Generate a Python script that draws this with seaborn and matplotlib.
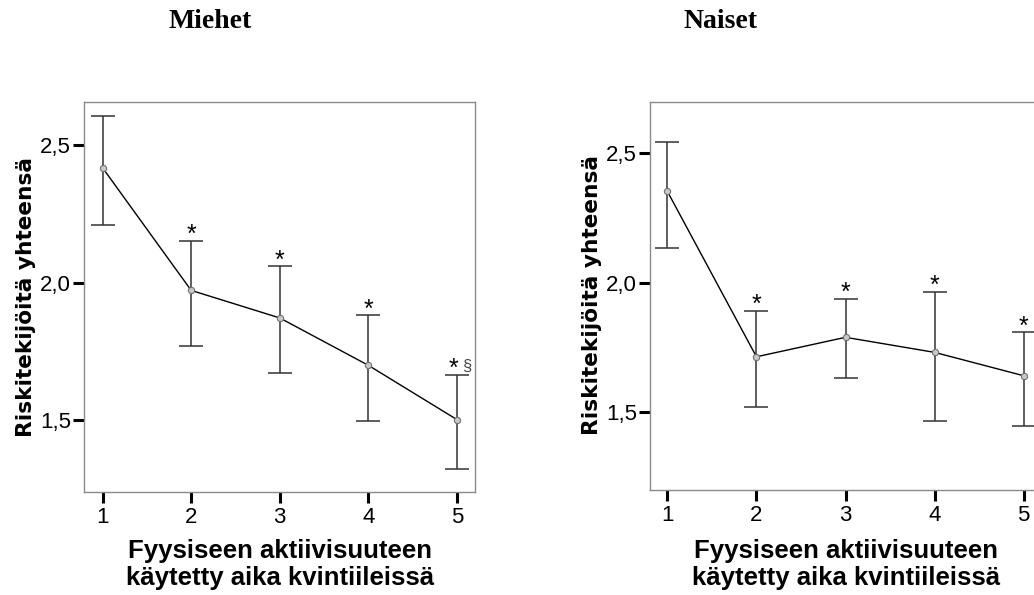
import matplotlib
matplotlib.use("Agg")
import matplotlib.pyplot as plt
import seaborn as sns
import pandas as pd
import numpy as np
from matplotlib.ticker import FuncFormatter

# ---- data ----
quintiles = [1, 2, 3, 4, 5]
men_mean = [2.417, 1.972, 1.872, 1.700, 1.503]
men_low = [2.211, 1.770, 1.671, 1.497, 1.324]
men_high = [2.606, 2.153, 2.059, 1.882, 1.666]
men_marks = ["", "*", "*", "*", "* §"]

women_mean = [2.351, 1.714, 1.789, 1.731, 1.641]
women_low = [2.134, 1.520, 1.631, 1.468, 1.447]
women_high = [2.540, 1.891, 1.938, 1.965, 1.809]
women_marks = ["", "*", "*", "*", "*"]

yticks = [1.5, 2.0, 2.5]
xlabel = "Fyysiseen aktiivisuuteen\nkäytetty aika kvintiileissä"
ylabel = "Riskitekijöitä yhteensä"
titles = ["Miehet", "Naiset"]

sns.set_theme(style="white")
plt.rcParams["font.family"] = ["Liberation Sans", "DejaVu Sans"]
plt.rcParams["text.color"] = "black"
plt.rcParams["axes.labelcolor"] = "black"

W, H = 1034, 595
fig = plt.figure(figsize=(W / 100, H / 100), dpi=100)

def px_axes(left, top, right, bottom):
    return fig.add_axes([left / W, 1 - bottom / H, (right - left) / W, (bottom - top) / H])

ax1 = px_axes(84, 102, 475.5, 492)
ax2 = px_axes(650, 102.3, 1041.5, 490)

panels = [
    (ax1, men_mean, men_low, men_high, men_marks, (1.24, 2.656), (0.79, 5.21), -0.147, 0.500, -0.186),
    (ax2, women_mean, women_low, women_high, women_marks, (1.201, 2.694), (0.805, 5.2), -0.147, 0.5035, -0.192),
]

fmt = FuncFormatter(lambda v, p: f"{v:.1f}".replace(".", ","))

for ax, mean, low, high, marks, ylim, xlim, ylx, yly, xly in panels:
    df = pd.DataFrame({"q": quintiles, "m": mean, "lo": low, "hi": high})
    yerr = np.vstack([df["m"] - df["lo"], df["hi"] - df["m"]])
    ax.errorbar(df["q"], df["m"], yerr=yerr, fmt="none", ecolor="#333333",
                elinewidth=1.1, capsize=8.5, capthick=1.1, zorder=2)
    sns.lineplot(data=df, x="q", y="m", ax=ax, color="black", linewidth=1.0,
                 marker="o", markersize=4.5, markerfacecolor="#c8c8c8",
                 markeredgecolor="#707070", markeredgewidth=0.8, zorder=3)
    for q, hi, mk in zip(quintiles, high, marks):
        if mk:
            if "§" in mk:
                ax.annotate("*", (q, hi), xytext=(-2.5, -1), textcoords="offset points",
                            ha="center", va="baseline", fontsize=18, color="black")
                ax.annotate("§", (q, hi), xytext=(7, 3), textcoords="offset points",
                            ha="center", va="baseline", fontsize=12, color="#444444")
            else:
                ax.annotate(mk, (q, hi), xytext=(0, -1), textcoords="offset points",
                            ha="center", va="baseline", fontsize=18, color="black")
    ax.set_xlim(*xlim)
    ax.set_ylim(*ylim)
    ax.set_xticks(quintiles)
    ax.set_yticks(yticks)
    ax.yaxis.set_major_formatter(fmt)
    ax.tick_params(axis="both", which="both", direction="out", length=8, width=2.2,
                   color="black", labelsize=16, labelcolor="black")
    ax.tick_params(axis="x", bottom=True, top=False, pad=3)
    ax.tick_params(axis="y", left=True, right=False, pad=1.5)
    for s in ax.spines.values():
        s.set_color("#8a8a8a")
        s.set_linewidth(1.0)
    ax.set_xlabel(xlabel, fontsize=18.5, fontweight="bold", linespacing=1.12)
    ax.set_ylabel(ylabel, fontsize=15.6, fontweight="bold", family="DejaVu Sans")
    ax.yaxis.set_label_coords(ylx, yly)
    ax.yaxis.label.set_verticalalignment("center")
    ax.xaxis.set_label_coords(0.5, xly)
    ax.xaxis.label.set_verticalalignment("center")
    ax.grid(False)

fig.text(210 / W, 1 - 21 / H, titles[0], ha="center", va="center",
         family="Liberation Serif", fontweight="bold", fontsize=20)
fig.text(720 / W, 1 - 21 / H, titles[1], ha="center", va="center",
         family="Liberation Serif", fontweight="bold", fontsize=20)

fig.savefig("out.png", dpi=100)
